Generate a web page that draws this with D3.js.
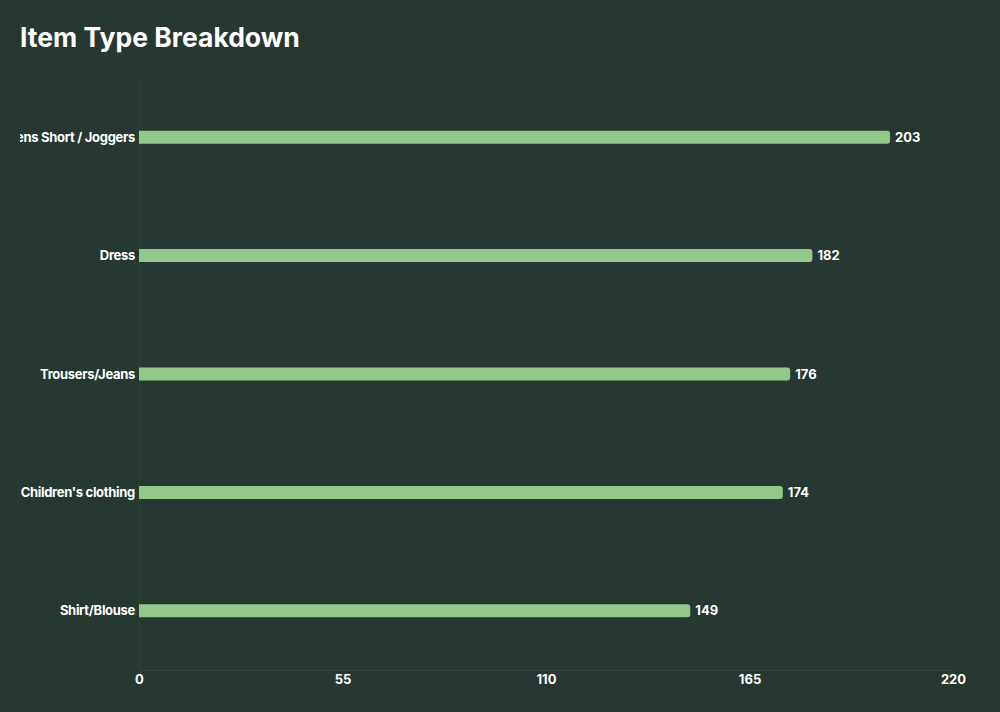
<!DOCTYPE html>
<html>
<head>
<meta charset="utf-8">
<script src="https://cdn.jsdelivr.net/npm/d3@7"></script>
<style>
  body { margin: 0; background: #263831; }
  text { font-family: "Inter", "Open Sans", sans-serif; }
</style>
</head>
<body>
<div id="chart"></div>
<script>
// data
var categories = ["Mens Short / Joggers", "Dress", "Trousers/Jeans", "Children's clothing", "Shirt/Blouse"];
var counts = [203, 182, 176, 174, 149];
var tickValues = [0, 55, 110, 165, 220];

var svgWidth = 1000;
var svgHeight = 712;

var margin = { top: 78, right: 47, bottom: 42, left: 139 };
var width = svgWidth - margin.left - margin.right;
var height = svgHeight - margin.top - margin.bottom;

var svg = d3.select("#chart")
  .append("svg")
  .attr("width", svgWidth)
  .attr("height", svgHeight);

svg.append("rect")
  .attr("width", svgWidth)
  .attr("height", svgHeight)
  .attr("fill", "#263831");

// labels get cut off at the left edge of the card
svg.append("clipPath")
  .attr("id", "labelClip")
  .append("rect")
  .attr("x", 20)
  .attr("y", 0)
  .attr("width", svgWidth - 20)
  .attr("height", svgHeight);

svg.append("text")
  .attr("x", 20)
  .attr("y", 47)
  .attr("fill", "#ffffff")
  .attr("font-size", "26.5px")
  .attr("font-weight", 700)
  .text("Item Type Breakdown");

var chartGroup = svg.append("g")
  .attr("transform", `translate(${margin.left}, ${margin.top})`);

var xScale = d3.scaleLinear()
  .domain([0, 220])
  .range([0, width]);

var yScale = d3.scaleBand()
  .domain(categories)
  .range([0, height]);

var barH = 13;

// frame lines
chartGroup.append("line")
  .attr("x1", 0).attr("x2", 0)
  .attr("y1", 0).attr("y2", height)
  .attr("stroke", "#2f4339")
  .attr("stroke-width", 1);

var bottomAxis = d3.axisBottom(xScale)
  .tickValues(tickValues)
  .tickSize(0)
  .tickPadding(5);

var xAxis = chartGroup.append("g")
  .attr("transform", `translate(0, ${height})`)
  .call(bottomAxis);

xAxis.select(".domain").attr("stroke", "#2f4339");
xAxis.selectAll("text")
  .attr("fill", "#ffffff")
  .attr("font-size", "13px")
  .attr("font-weight", 700)
  .attr("font-family", "Inter, 'Open Sans', sans-serif");

// bars: square on the left, rounded on the right
function barPath(d) {
  var w = xScale(d.value);
  var y0 = yScale(d.name) + yScale.bandwidth() / 2 - barH / 2;
  var r = 3;
  return `M0,${y0}H${w - r}Q${w},${y0} ${w},${y0 + r}V${y0 + barH - r}Q${w},${y0 + barH} ${w - r},${y0 + barH}H0Z`;
}

var data = categories.map(function(c, i) { return { name: c, value: counts[i] }; });

chartGroup.selectAll("path.bar")
  .data(data)
  .enter()
  .append("path")
  .classed("bar", true)
  .attr("d", barPath)
  .attr("fill", "#93c88b");

chartGroup.selectAll("text.value")
  .data(data)
  .enter()
  .append("text")
  .classed("value", true)
  .attr("x", d => xScale(d.value) + 5)
  .attr("y", d => yScale(d.name) + yScale.bandwidth() / 2)
  .attr("dy", "0.35em")
  .attr("fill", "#ffffff")
  .attr("font-size", "13px")
  .attr("font-weight", 700)
  .text(d => d.value);

svg.append("g")
  .attr("clip-path", "url(#labelClip)")
  .selectAll("text.cat")
  .data(data)
  .enter()
  .append("text")
  .classed("cat", true)
  .attr("x", margin.left - 4)
  .attr("y", d => margin.top + yScale(d.name) + yScale.bandwidth() / 2)
  .attr("dy", "0.35em")
  .attr("text-anchor", "end")
  .attr("fill", "#ffffff")
  .attr("font-size", "13px")
  .attr("font-weight", 700)
  .attr("letter-spacing", "-0.3px")
  .text(d => d.name);
</script>
</body>
</html>
